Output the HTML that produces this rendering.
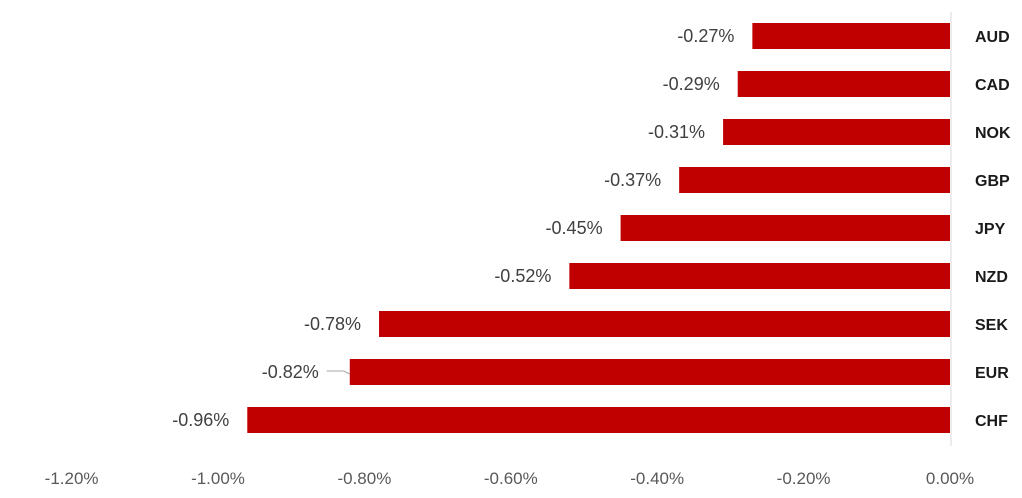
<!DOCTYPE html>
<html><head><meta charset="utf-8"><style>
html,body{margin:0;padding:0;background:#fff;}
svg{display:block;font-family:"Liberation Sans",Arial,sans-serif;}
</style></head><body>
<svg id="chart" width="1022" height="498" viewBox="0 0 1022 498" xmlns="http://www.w3.org/2000/svg"></svg>
<script>
const categories = ["AUD","CAD","NOK","GBP","JPY","NZD","SEK","EUR","CHF"];
const values = [-0.27,-0.29,-0.31,-0.37,-0.45,-0.52,-0.78,-0.82,-0.96];
const tickValues = [-1.2,-1.0,-0.8,-0.6,-0.4,-0.2,0];
const tickLabels = ["-1.20%","-1.00%","-0.80%","-0.60%","-0.40%","-0.20%","0.00%"];

const NS = "http://www.w3.org/2000/svg";
const svg = document.getElementById("chart");
const x0 = 950, pxPerUnit = 732;
function xScale(v){ return x0 + v * pxPerUnit; }
const top0 = 36, step = 48, barH = 26;
function yScale(i){ return top0 + i * step; }
function mk(tag, attrs){ const e = document.createElementNS(NS, tag); for (const k in attrs) e.setAttribute(k, attrs[k]); svg.appendChild(e); return e; }

const axis = mk("line", {x1: x0 + 1, x2: x0 + 1, y1: 12, y2: 446, stroke: "#d9d9d9", "stroke-width": 1});



categories.forEach((c, i) => {
  const v = values[i];
  const xl = xScale(v), yc = yScale(i);
  const bar = mk("rect", {x: xl, y: yc - barH / 2, width: x0 - xl, height: barH, fill: "#c00000"});
  
  
  let labelEnd = xl - 18;
  if (c === "EUR") {
    labelEnd = xl - 31;
    const lead = mk("path", {d: `M${labelEnd + 8} ${yc - 1} L${xl - 6} ${yc - 1} L${xl} ${yc + 2}`, stroke: "#a6a6a6", fill: "none", "stroke-width": 1});
    
    
  }
  const vl = mk("text", {x: labelEnd, y: yc + 6, "text-anchor": "end", "font-size": 18, fill: "#404040"});
  vl.textContent = v.toFixed(2) + "%";
  
  
  const cl = mk("text", {x: 975, y: yc + 6, "font-size": 16, "font-weight": "bold", fill: "#1a1a1a"});
  cl.textContent = c;
  
  
});

tickValues.forEach((t, i) => {
  const tl = mk("text", {x: xScale(t), y: 484, "text-anchor": "middle", "font-size": 17, fill: "#595959"});
  tl.textContent = tickLabels[i];
  
  
});
</script>
</body></html>
